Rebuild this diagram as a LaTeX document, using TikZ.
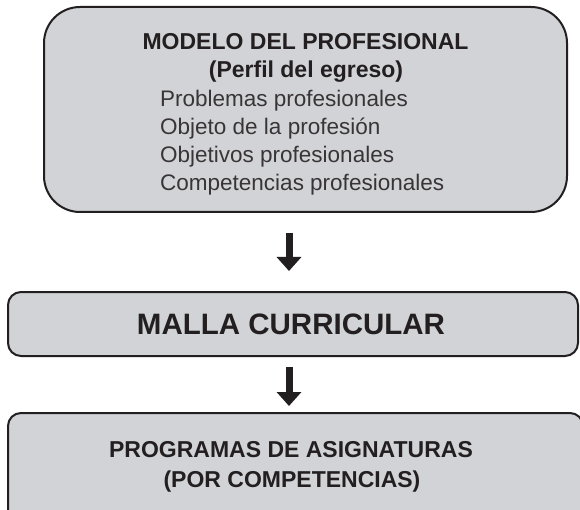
\documentclass[tikz,border=0pt]{standalone}
\usepackage{fontspec}
\setmainfont{Liberation Sans}
\usetikzlibrary{arrows.meta}
\definecolor{boxgray}{RGB}{209,211,215}
\definecolor{ink}{RGB}{35,31,32}
\begin{document}
\begin{tikzpicture}[x=1pt,y=-1pt,
  box/.style={draw=ink, line width=2pt, fill=boxgray, rectangle, inner sep=0pt},
  bigarrow/.style={draw=ink, line width=7pt, -{Triangle[width=24pt,length=14pt]}},
  headtxt/.style={font=\fontsize{23}{27}\selectfont\bfseries, text=ink, inner sep=0pt, anchor=base},
  itemtxt/.style={font=\fontsize{22.5}{27}\selectfont, text=ink!90, inner sep=0pt, anchor=base west},
]
\useasboundingbox (0,0) rectangle (580,510);
\fill[white] (0,0) rectangle (580,510);
% boxes
\node[box, rounded corners=36pt, minimum width=523pt, minimum height=205pt] (modelo) at (305.5,109.5) {};
\node[box, rounded corners=13pt, minimum width=570pt, minimum height=64pt] (malla) at (293,324) {};
\node[box, rounded corners=13pt, minimum width=575pt, minimum height=117pt] (prog) at (295.5,471.5) {};
% texts top box
\node[headtxt] (h1) at (305.5,50) {MODELO DEL PROFESIONAL};
\node[headtxt] (h2) at (306,78) {(Perfil del egreso)};
\node[itemtxt] (i1) at (160,107) {Problemas profesionales};
\node[itemtxt] (i2) at (160,135) {Objeto de la profesión};
\node[itemtxt] (i3) at (160,163) {Objetivos profesionales};
\node[itemtxt] (i4) at (160,190.5) {Competencias profesionales};
% middle text
\node[headtxt, font=\fontsize{29.5}{34}\selectfont\bfseries] (mt) at (291,334) {MALLA CURRICULAR};
% bottom text
\node[headtxt, font=\fontsize{23}{28}\selectfont\bfseries] (p1) at (291,457) {PROGRAMAS DE ASIGNATURAS};
\node[headtxt, font=\fontsize{23}{28}\selectfont\bfseries] (p2) at (292,487) {(POR COMPETENCIAS)};
% arrows
\draw[bigarrow, shorten <=20pt, shorten >=20pt] ([xshift=-16.5pt]modelo.south) -- ([xshift=-4pt]malla.north);
\draw[bigarrow, shorten <=10pt, shorten >=6pt] ([xshift=-4pt]malla.south) -- ([xshift=-6.5pt]prog.north);
\end{tikzpicture}
\end{document}
